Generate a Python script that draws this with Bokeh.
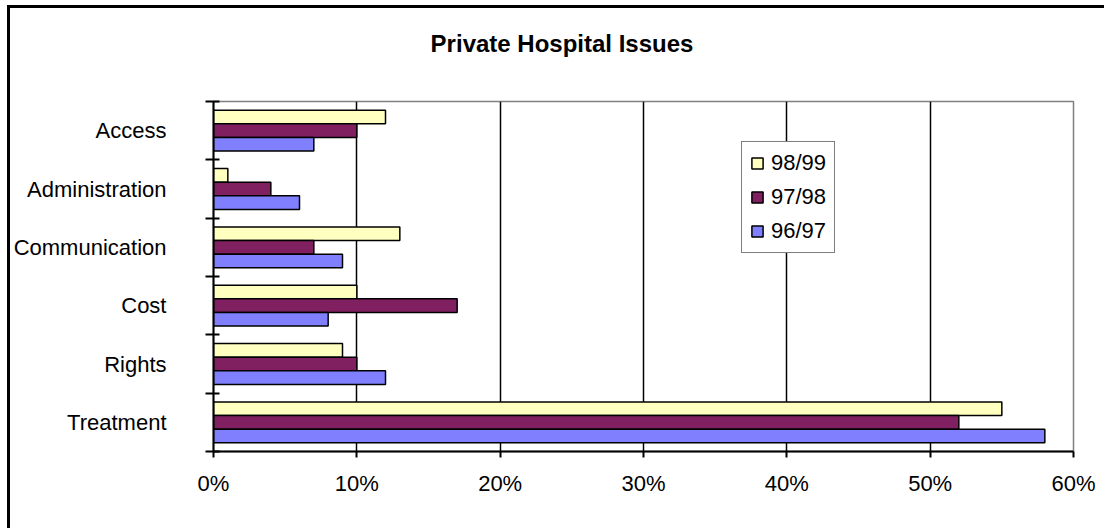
from bokeh.plotting import figure
from bokeh.layouts import column
from bokeh.models import FixedTicker, Legend, LegendItem, ColumnDataSource, Range1d, Div
from bokeh.embed import file_html
from bokeh.resources import INLINE

# Share of private hospital complaints by issue (%), per reporting year
categories = ["Access", "Administration", "Communication", "Cost", "Rights", "Treatment"]
season_labels = ["98/99", "97/98", "96/97"]
pct_9899 = [12, 1, 13, 10, 9, 55]
pct_9798 = [10, 4, 7, 17, 10, 52]
pct_9697 = [7, 6, 9, 8, 12, 58]
x_ticks = [0, 10, 20, 30, 40, 50, 60]
x_tick_labels = ["0%", "10%", "20%", "30%", "40%", "50%", "60%"]
chart_title = "Private Hospital Issues"

series = [pct_9899, pct_9798, pct_9697]
colors = ["#FFFFC0", "#802060", "#8080FF"]

FONT = "Liberation Sans"
n = len(categories)
centers = [n - 0.5 - i for i in range(n)]   # first category drawn at the top
bar_h = 0.7 / len(series)

# title strip above the plot
title_div = Div(
    text=(
        '<div style="position:relative; top:22px; width:1104px; text-align:center; '
        "font-family:'Liberation Sans'; font-weight:bold; font-size:24px; "
        'line-height:28px; color:#000; white-space:nowrap;">'
        + chart_title + "</div>"
    ),
    width=1094, height=60, margin=0,
)

p = figure(
    width=1094, height=460,
    x_range=Range1d(0, 60), y_range=Range1d(0, n),
    min_border_left=203, min_border_right=31,
    min_border_top=33, min_border_bottom=77,
    output_backend="svg", toolbar_location=None,
)

p.background_fill_color = "white"
p.border_fill_color = "white"
p.outline_line_color = "#808080"
p.outline_line_width = 1.5

items = []
for k, (vals, col, lab) in enumerate(zip(series, colors, season_labels)):
    shift = (1 - k) * bar_h
    src = ColumnDataSource(dict(y=[c + shift for c in centers], right=vals))
    r = p.hbar(y="y", left=0, right="right", height=bar_h, source=src,
               fill_color=col, line_color="black", line_width=1.5)
    items.append(LegendItem(label=lab, renderers=[r]))

# x axis
xa = p.xaxis[0]
xa.ticker = FixedTicker(ticks=x_ticks)
xa.major_label_overrides = {t: s for t, s in zip(x_ticks, x_tick_labels)}
xa.axis_line_color = "black"
xa.axis_line_width = 2
xa.major_tick_in = 0
xa.major_tick_out = 6
xa.major_tick_line_width = 2
xa.minor_tick_line_color = None
xa.major_label_text_font = FONT
xa.major_label_text_font_size = "22px"
xa.major_label_text_color = "black"
xa.major_label_standoff = 13

# y axis: labels at category centres, ticks on category boundaries
ya = p.yaxis[0]
ya.ticker = FixedTicker(ticks=centers, minor_ticks=list(range(n + 1)))
ya.major_label_overrides = {c: s for c, s in zip(centers, categories)}
ya.axis_line_color = "black"
ya.axis_line_width = 2
ya.major_tick_in = 0
ya.major_tick_out = 0
ya.minor_tick_in = 6
ya.minor_tick_out = 8
ya.minor_tick_line_color = "black"
ya.minor_tick_line_width = 2
ya.major_label_text_font = FONT
ya.major_label_text_font_size = "22px"
ya.major_label_text_color = "black"
ya.major_label_standoff = 39

p.xgrid.grid_line_color = "black"
p.xgrid.grid_line_width = 1.5
p.ygrid.grid_line_color = None

legend = Legend(
    items=items, location=(528, 198),
    border_line_color="black", border_line_width=1,
    background_fill_color="white", background_fill_alpha=1,
    padding=8, margin=0, spacing=8,
    glyph_width=14, glyph_height=14, label_standoff=7,
    label_text_font=FONT, label_text_font_size="22px", label_text_color="black",
)
p.add_layout(legend)

# outer chart border along the left and top edges
page = column(
    title_div, p, spacing=0,
    styles={
        "margin-left": "7px", "margin-top": "5px",
        "border-style": "solid none none solid",
        "border-width": "3px 0 0 3px",
        "border-color": "#000",
        "overflow": "hidden",
    },
)

open("out.html", "w").write(file_html(page, INLINE))
